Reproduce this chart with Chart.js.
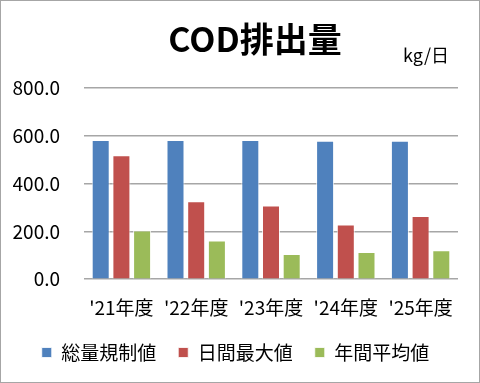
<!DOCTYPE html>
<html>
<head>
<meta charset="utf-8">
<script src="https://cdn.jsdelivr.net/npm/chart.js@4"></script>
<style>
  body { margin: 0; background: #fff; }
  #wrap { width: 480px; height: 383px; box-sizing: border-box; border: 1px solid #a6a6a6; }
</style>
</head>
<body>
<div id="wrap"><canvas id="chart" width="478" height="381"></canvas></div>
<script>
const years = ["'21年度", "'22年度", "'23年度", "'24年度", "'25年度"];
const totalLimit = [582, 582, 582, 579, 579];
const dailyMax = [519, 326, 308, 229, 264];
const annualAvg = [204, 162, 105, 114, 121];
const seriesNames = ['総量規制値', '日間最大値', '年間平均値'];
const yTicks = [0, 200, 400, 600, 800];

const FONT = "'Noto Sans CJK JP', 'Noto Sans', sans-serif";

// title and unit label drawn by hand so they sit where the original has them
const headerText = {
  id: 'headerText',
  afterDraw(chart) {
    const ctx = chart.ctx;
    ctx.save();
    ctx.fillStyle = '#000';
    ctx.textBaseline = 'middle';
    ctx.textAlign = 'center';
    ctx.font = 'bold 34px ' + FONT;
    ctx.fillText('COD排出量', 254, 38);
    ctx.textAlign = 'right';
    ctx.font = '18px ' + FONT;
    ctx.fillText('kg/日', 448, 54);
    ctx.restore();
  }
};

new Chart(document.getElementById('chart').getContext('2d'), {
  type: 'bar',
  data: {
    labels: years,
    datasets: [
      { label: seriesNames[0], data: totalLimit, backgroundColor: '#4F81BD' },
      { label: seriesNames[1], data: dailyMax, backgroundColor: '#C0504D' },
      { label: seriesNames[2], data: annualAvg, backgroundColor: '#9BBB59' }
    ]
  },
  options: {
    responsive: false,
    animation: false,
    layout: { padding: { top: 87, left: 12, right: 21, bottom: 10 } },
    datasets: {
      bar: {
        categoryPercentage: 0.83,
        barPercentage: 0.87,
        borderColor: 'rgba(255,255,255,0.8)',
        borderWidth: 1
      }
    },
    scales: {
      x: {
        grid: { display: false },
        border: { display: false },
        ticks: { color: '#000', font: { family: FONT, size: 19 }, padding: 9 },
        afterFit(axis) { axis.height = axis.height - 7; }
      },
      y: {
        min: 0,
        max: 800,
        afterBuildTicks(axis) { axis.ticks = yTicks.map(v => ({ value: v })); },
        afterFit(axis) { axis.width = 71; },
        grid: { color: '#a6a6a6', lineWidth: 1.5, drawTicks: false },
        border: { display: false },
        ticks: {
          color: '#000',
          font: { family: FONT, size: 19 },
          padding: 24,
          callback: v => v.toFixed(1)
        }
      }
    },
    plugins: {
      legend: {
        position: 'bottom',
        labels: {
          color: '#000',
          font: { family: FONT, size: 19 },
          boxWidth: 10,
          boxHeight: 10,
          padding: 22
        }
      },
      tooltip: { enabled: false }
    }
  },
  plugins: [headerText]
});
</script>
</body>
</html>
